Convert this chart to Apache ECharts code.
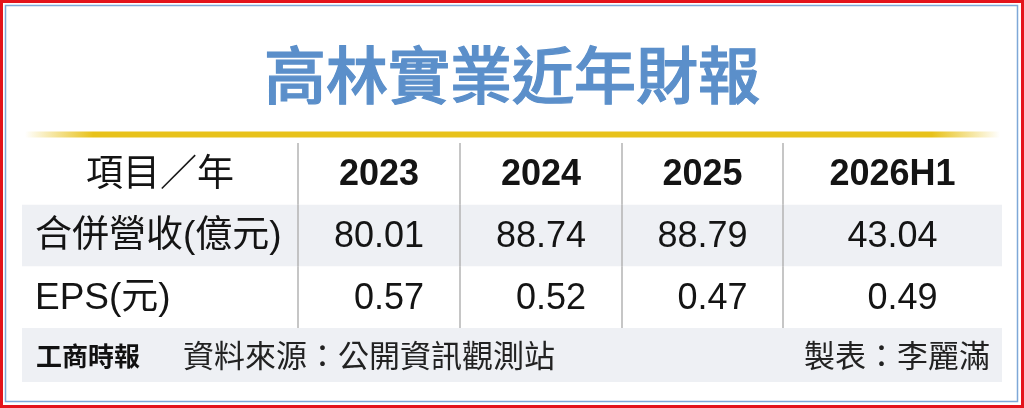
<!DOCTYPE html>
<html>
<head>
<meta charset="utf-8">
<style>
  html, body { margin: 0; padding: 0; background: #fff; }
  #main { width: 1024px; height: 408px; }
</style>
<script src="https://cdn.jsdelivr.net/npm/echarts@6/dist/echarts.min.js"></script>
</head>
<body>
<div id="main"></div>
<script>
// 表格資料
const title = '高林實業近年財報';
const cornerLabel = '項目／年';
const years = ['2023', '2024', '2025', '2026H1'];
const rowLabels = ['合併營收(億元)', 'EPS(元)'];
const revenue = [80.01, 88.74, 88.79, 43.04];
const eps = [0.57, 0.52, 0.47, 0.49];
const logoText = '工商時報';
const sourceText = '資料來源：公開資訊觀測站';
const makerText = '製表：李麗滿';

// 版面設定 (欄寬)
const colWidths = [276, 162, 162, 161, 219];
const colEdges = colWidths.reduce((acc, w) => { acc.push(acc[acc.length - 1] + w); return acc; }, [0]);

const latinFont = '"Liberation Sans", Arial, "Noto Sans CJK TC", sans-serif';
const cjkFont = '"Liberation Sans", "Noto Sans CJK TC", sans-serif';
const bandColor = '#eef0f4';
const textColor = '#141414';

// 每一格: 欄、列、文字
const cells = [];
cells.push({ col: 0, row: 0, text: cornerLabel, kind: 'corner' });
years.forEach((y, i) => cells.push({ col: i + 1, row: 0, text: y, kind: 'year' }));
rowLabels.forEach((l, r) => cells.push({ col: 0, row: r + 1, text: l, kind: 'label' }));
revenue.forEach((v, i) => cells.push({ col: i + 1, row: 1, text: v.toFixed(2), kind: 'value' }));
eps.forEach((v, i) => cells.push({ col: i + 1, row: 2, text: v.toFixed(2), kind: 'eps' }));

function renderCell(params, api) {
  const cell = cells[params.dataIndex];
  const col = api.value(0);
  const row = api.value(1);
  const left = api.coord([colEdges[col], row]);
  const right = api.coord([colEdges[col + 1], row]);
  const bandH = api.size([0, 1])[1];
  const top = left[1] - bandH / 2;
  const cx = (left[0] + right[0]) / 2;
  const cy = left[1] + 1.5;
  const children = [];

  if (row === 1) {
    children.push({
      type: 'rect',
      shape: { x: left[0], y: top, width: right[0] - left[0], height: bandH },
      style: { fill: bandColor },
      z2: 0
    });
  }
  if (col > 0) {
    children.push({
      type: 'line',
      shape: { x1: left[0], y1: top, x2: left[0], y2: top + bandH },
      style: { stroke: '#b3b3b3', lineWidth: 1.5 },
      z2: 5
    });
  }

  let x = cx, align = 'center', font = '37px ' + cjkFont;
  if (cell.kind === 'label') {
    x = left[0] + 13;
    align = 'left';
  } else if (cell.kind === 'year') {
    font = 'bold 36px ' + latinFont;
  } else if (cell.kind === 'value') {
    font = '36px ' + latinFont;
  } else if (cell.kind === 'eps') {
    // 對齊營收數字的右緣
    font = '36px ' + latinFont;
    x = cx + 36 * 0.278;
  }
  children.push({
    type: 'text',
    style: {
      text: cell.text, x: x, y: cy, align: align, verticalAlign: 'middle',
      font: font, fill: textColor
    },
    z2: 10
  });
  return { type: 'group', children: children };
}

const chart = echarts.init(document.getElementById('main'), null, { renderer: 'canvas' });

const option = {
  animation: false,
  backgroundColor: '#fff',
  grid: { left: 22, top: 143, width: colEdges[colEdges.length - 1], height: 185 },
  xAxis: { type: 'value', min: 0, max: colEdges[colEdges.length - 1], show: false },
  yAxis: { type: 'category', data: ['header'].concat(rowLabels), inverse: true, show: false },
  graphic: [
    {
      type: 'rect', silent: true,
      shape: { x: 1.5, y: 1.5, width: 1021, height: 405 },
      style: { fill: 'none', stroke: '#e4141c', lineWidth: 3 }
    },
    {
      type: 'rect', silent: true,
      shape: { x: 5.5, y: 5.5, width: 1012, height: 396 },
      style: { fill: 'none', stroke: '#7ea8d8', lineWidth: 1.5 }
    },
    {
      type: 'text', silent: true,
      style: {
        text: title, x: 512, y: 75, align: 'center', verticalAlign: 'middle',
        font: '500 62px "Noto Sans CJK TC", sans-serif', fill: '#5b8fca',
        stroke: '#5b8fca', lineWidth: 1.2
      }
    },
    {
      type: 'rect', silent: true,
      shape: { x: 25, y: 131.5, width: 975, height: 6 },
      style: {
        fill: new echarts.graphic.LinearGradient(0, 0, 1, 0, [
          { offset: 0, color: 'rgba(232,194,26,0)' },
          { offset: 0.07, color: '#e8c21a' },
          { offset: 0.93, color: '#e8c21a' },
          { offset: 1, color: 'rgba(232,194,26,0)' }
        ])
      }
    },
    {
      type: 'rect', silent: true,
      shape: { x: 22, y: 328, width: 980, height: 54 },
      style: { fill: bandColor }
    },
    {
      type: 'text', silent: true,
      style: {
        text: logoText, x: 36, y: 356, verticalAlign: 'middle',
        font: 'bold 26px "Noto Sans CJK TC", sans-serif', fill: '#111'
      }
    },
    {
      type: 'text', silent: true,
      style: {
        text: sourceText, x: 183, y: 355, verticalAlign: 'middle',
        font: '31px "Noto Sans CJK TC", sans-serif', fill: '#222'
      }
    },
    {
      type: 'text', silent: true,
      style: {
        text: makerText, x: 990, y: 355, align: 'right', verticalAlign: 'middle',
        font: '31px "Noto Sans CJK TC", sans-serif', fill: '#222'
      }
    }
  ],
  series: [{
    type: 'custom',
    silent: true,
    renderItem: renderCell,
    encode: { x: 0, y: 1 },
    data: cells.map(c => [c.col, c.row])
  }]
};

chart.setOption(option);
</script>
</body>
</html>
